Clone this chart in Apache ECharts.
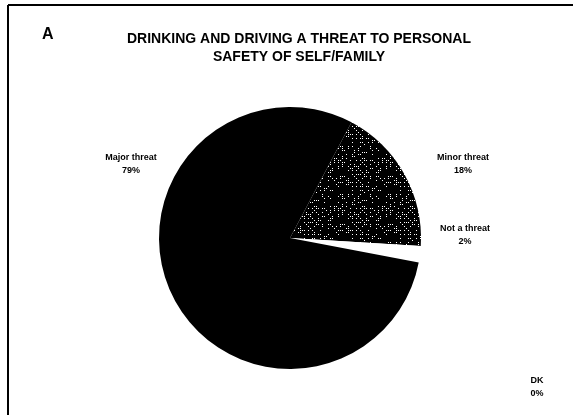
<!DOCTYPE html>
<html>
<head>
<meta charset="utf-8">
<script src="https://cdn.jsdelivr.net/npm/echarts@6/dist/echarts.min.js"></script>
<style>
html,body{margin:0;padding:0;background:#fff;}
#chart{width:573px;height:415px;}
</style>
</head>
<body>
<div id="chart"></div>
<script>
// Data
var categories = ['Minor threat', 'Not a threat', 'DK', 'Major threat'];
var values = [18, 2, 0, 79];

// Label positions (layout only)
var labelPos = [
  [463, 164],
  [465, 235],
  [537, 387],
  [131, 164]
];

// Stipple texture for the "Minor threat" slice (style only)
function makeStipple() {
  var c = document.createElement('canvas');
  c.width = 48; c.height = 48;
  var ctx = c.getContext('2d');
  ctx.fillStyle = '#000';
  ctx.fillRect(0, 0, 48, 48);
  ctx.fillStyle = '#fff';
  var s = 12345;
  for (var y = 0; y < 48; y += 2) {
    for (var x = 0; x < 48; x += 2) {
      s = (s * 1103515245 + 12345) & 0x7fffffff;
      if ((s >> 8) % 100 < 22) {
        ctx.fillRect(x, y, 1, 1);
      }
    }
  }
  return c;
}

var sliceColors = [{image: makeStipple(), repeat: 'repeat'}, '#ffffff', '#000000', '#000000'];

var chart = echarts.init(document.getElementById('chart'), null, {renderer: 'canvas'});

var data = categories.map(function (c, i) {
  return {
    name: c,
    value: values[i],
    itemStyle: {color: sliceColors[i]}
  };
});

var option = {
  backgroundColor: '#fff',
  animation: false,
  graphic: [
    {type: 'line', shape: {x1: 8, y1: 5, x2: 573, y2: 5}, style: {stroke: '#000', lineWidth: 2}},
    {type: 'line', shape: {x1: 8, y1: 5, x2: 8, y2: 415}, style: {stroke: '#000', lineWidth: 2}},
    {type: 'text', left: 42, top: 27, style: {text: 'A', font: 'bold 16px "Liberation Sans"', fill: '#000'}}
  ],
  title: {
    text: 'DRINKING AND DRIVING A THREAT TO PERSONAL\nSAFETY OF SELF/FAMILY',
    left: 294,
    top: 25,
    textAlign: 'center',
    textStyle: {
      fontFamily: 'Liberation Sans',
      fontWeight: 'bold',
      fontSize: 14,
      lineHeight: 18,
      color: '#000'
    }
  },
  series: [{
    type: 'pie',
    center: [290, 238],
    radius: 131,
    startAngle: 62,
    clockwise: true,
    minAngle: 0,
    avoidLabelOverlap: false,
    stillShowZeroSum: true,
    itemStyle: {borderWidth: 0},
    label: {
      show: true,
      position: 'outside',
      formatter: function (p) { return p.name + '\n' + p.value + '%'; },
      fontFamily: 'Liberation Sans',
      fontWeight: 'bold',
      fontSize: 9,
      lineHeight: 13,
      color: '#000',
      align: 'center'
    },
    labelLine: {show: false},
    labelLayout: function (params) {
      var p = labelPos[params.dataIndex];
      return {x: p[0], y: p[1], align: 'center', verticalAlign: 'middle', hideOverlap: false};
    },
    data: data
  }]
};
chart.setOption(option);
</script>
</body>
</html>
